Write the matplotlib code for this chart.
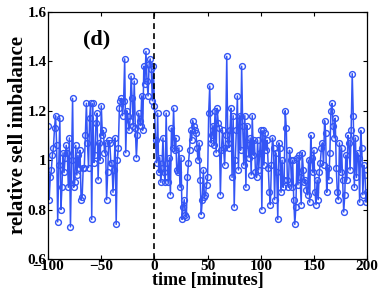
import matplotlib
matplotlib.use("Agg")
import matplotlib.pyplot as plt
import numpy as np

plt.rcParams['font.family'] = ['Liberation Serif', 'DejaVu Serif']
plt.rcParams['font.weight'] = 'bold'

t_start, t_end = -100, 200
values_pre = [
    1.14, 0.84, 0.93, 0.96, 1.02, 1.05, 1.13, 1.18, 1.06, 0.75,
    0.98, 1.17, 0.80, 0.89, 1.03, 0.95, 1.01, 1.06, 1.03, 0.89,
    1.09, 0.73, 1.00, 1.25, 0.89, 0.91, 1.06, 0.94, 1.02, 0.97,
    1.04, 0.84, 0.85, 0.97, 0.97, 1.10, 1.23, 1.07, 0.97, 1.17,
    1.23, 0.76, 1.23, 0.99, 1.02, 1.15, 1.19, 0.92, 1.07, 1.00,
    1.22, 1.10, 1.12, 1.03, 1.07, 0.84, 0.95, 1.08, 1.07, 0.99,
    0.99, 0.87, 0.96, 1.09, 0.74, 1.00, 1.05, 1.21, 1.24, 1.25,
    1.18, 1.24, 1.41, 1.03, 1.20, 1.18, 1.12, 1.16, 1.34, 1.25,
    1.14, 1.32, 1.13, 1.01, 1.10, 1.19, 1.16, 1.14, 1.26, 1.12,
    1.38, 1.31, 1.44, 1.32, 1.26, 1.39, 1.41, 1.37, 1.24, 1.38,
    1.22,
]
values_post1 = [
    1.08, 0.99, 1.19, 0.95, 1.01, 0.91, 0.97, 1.09, 0.95, 0.91,
    1.19, 0.99, 0.91, 1.01, 0.86, 1.13, 1.05, 1.21, 1.04, 1.09,
    0.96, 0.95, 1.05, 0.89, 1.01, 0.76, 0.81, 0.84, 0.78, 0.77,
    0.93, 0.99, 1.04, 1.12, 1.08, 1.16, 1.14, 1.12, 1.11, 1.05,
    1.00, 1.07, 0.92, 0.78, 0.84, 0.96, 0.85, 0.86, 0.90, 0.93,
    1.19, 1.30, 1.07, 1.10, 1.14, 1.06, 1.20, 1.03, 1.21, 1.15,
    1.13, 0.86, 1.04, 1.12, 1.05, 0.98, 1.10, 1.42, 1.07, 1.05,
    1.12, 1.21, 0.93, 1.18, 0.81, 1.00, 1.12, 1.26, 0.96, 1.18,
    1.04, 1.38, 1.14, 0.98, 1.18, 0.89, 1.14, 1.06, 1.01, 1.09,
    0.94, 1.18, 1.02, 1.08, 0.95, 0.93, 1.08, 0.96, 1.03, 1.12,
    0.80, 1.12, 0.98, 1.11, 1.04, 1.08, 0.97,
]
values_post2 = [
    0.87, 0.82, 0.98, 1.09, 1.05, 0.84, 1.03, 0.95, 0.76, 1.07,
    1.05, 0.87, 1.00, 0.89, 0.92, 1.20, 1.13, 0.92, 0.89, 1.04,
    1.00, 0.89, 1.00, 0.84, 0.74, 0.81, 1.01, 0.90, 1.02, 0.93,
    0.82, 1.03, 0.96, 0.91, 0.92, 0.88, 0.86, 1.00, 0.83, 1.10,
    1.01, 0.95, 1.04, 0.87, 0.82, 0.92, 0.84, 0.95, 0.99, 1.05,
    1.07, 0.98, 1.16, 1.11, 0.87, 0.97, 0.92, 1.03, 1.20, 1.23,
    1.14, 1.09, 1.17, 0.97, 0.87, 0.84, 1.07, 0.95, 1.05, 0.92,
    0.79, 0.86, 1.02, 0.92, 1.10, 1.07, 0.96, 1.12, 1.35, 1.18,
    0.89, 1.09, 0.93, 1.03, 1.01, 0.83, 1.12, 1.05, 0.86, 0.98,
    0.94, 0.83, 0.87,
]
values = values_pre + values_post1 + values_post2
time = np.arange(t_start, t_start + len(values))

xticks = [-100, -50, 0, 50, 100, 150, 200]
yticks = [0.6, 0.8, 1.0, 1.2, 1.4, 1.6]
yticklabels = ['0.6', '0.8', '1', '1.2', '1.4', '1.6']

fig = plt.figure(figsize=(3.82, 2.97), dpi=100)
ax = fig.add_axes([0.126, 0.128, 0.835, 0.832])

ax.plot(time, values, color='#3355f5', lw=1.1, marker='o', ms=4.2,
        mfc='none', mec='#3355f5', mew=1.0)
ax.axvline(0, color='black', lw=1.2, ls=(0, (3.5, 2.5)))

ax.set_xlim(-100, 200)
ax.set_ylim(0.6, 1.6)
ax.set_xticks(xticks)
ax.set_xticklabels([str(v).replace('-', '\u2212') for v in xticks])
ax.set_yticks(yticks)
ax.set_yticklabels(yticklabels)
ax.tick_params(direction='in', top=True, right=True, length=3, width=0.8,
               labelsize=11, pad=1)
for lab in ax.get_xticklabels() + ax.get_yticklabels():
    lab.set_fontweight('bold')
for s in ax.spines.values():
    s.set_linewidth(0.9)

ax.set_xlabel('time [minutes]', fontsize=13, fontweight='bold', labelpad=-1)
ax.set_ylabel('relative sell imbalance', fontsize=15, fontweight='bold', labelpad=0)
ax.text(-54, 1.49, '(d)', fontsize=16, fontweight='bold', ha='center', va='center')

fig.savefig('out.png', dpi=100)
